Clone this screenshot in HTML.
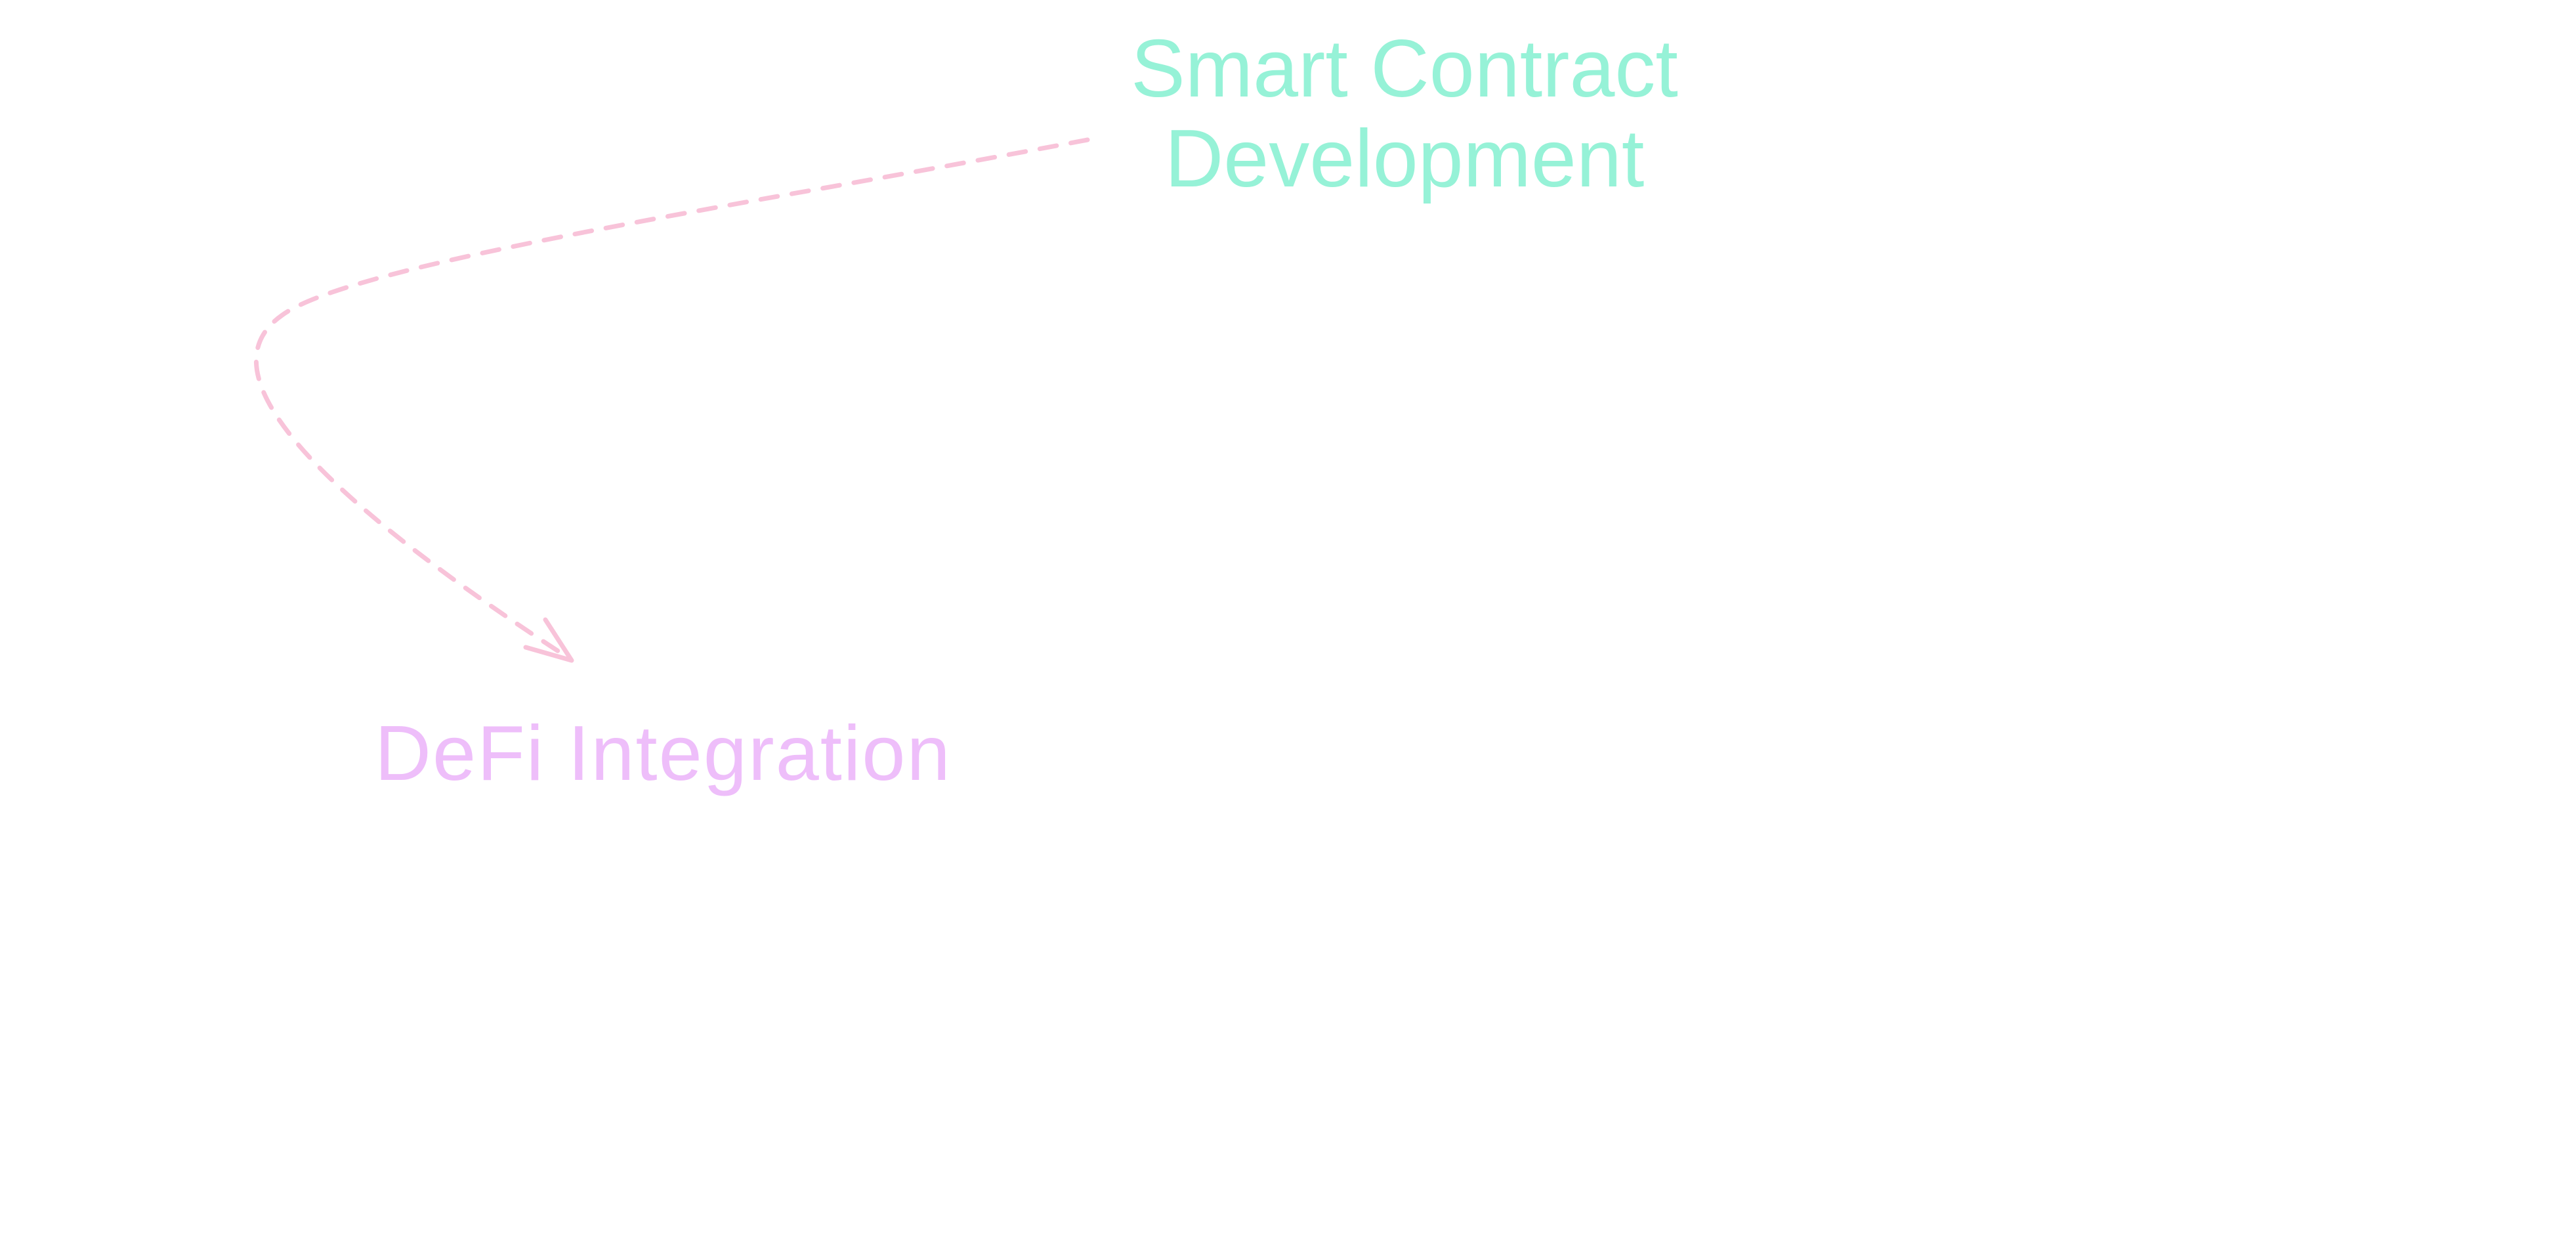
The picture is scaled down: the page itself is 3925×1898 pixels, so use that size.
<!DOCTYPE html>
<html><head><meta charset="utf-8">
<style>
html,body{margin:0;padding:0;background:#fff;}
body{width:3925px;height:1898px;position:relative;overflow:hidden;font-family:"Liberation Sans",sans-serif;}
.t{position:absolute;white-space:nowrap;line-height:140px;}
</style></head><body>
<svg width="3925" height="1898" style="position:absolute;left:0;top:0">
<path d="M1657 213 C 1150 310, 540 400, 430 480 C 330 550, 400 700, 866 1002" fill="none" stroke="#f8c3d9" stroke-width="7" stroke-linecap="round" stroke-dasharray="26 22"/>
<path d="M831 944 L871 1006 M801 986 L871 1006" fill="none" stroke="#f8c3d9" stroke-width="7" stroke-linecap="round"/>
</svg>
<div class="t" style="left:1622px;top:35px;width:1036px;text-align:center;color:#96f2d7;font-size:124px;">Smart Contract</div>
<div class="t" style="left:1622px;top:172px;width:1036px;text-align:center;color:#96f2d7;font-size:124px;">Development</div>
<div class="t" style="left:571px;top:1078px;color:#eebefa;font-size:119px;letter-spacing:2px;">DeFi Integration</div>
</body></html>
